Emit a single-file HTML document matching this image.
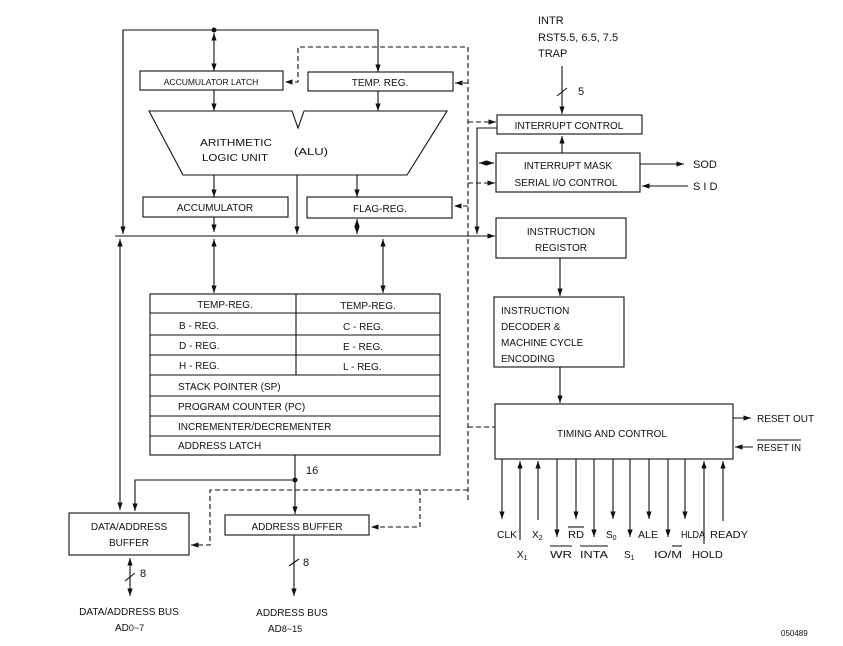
<!DOCTYPE html>
<html><head><meta charset="utf-8"><style>
html,body{margin:0;padding:0;background:#fff;}
svg{display:block;}
text{font-family:"Liberation Sans",sans-serif;fill:#111;}
</style></head><body>
<svg width="843" height="646" viewBox="0 0 843 646" xmlns="http://www.w3.org/2000/svg">
<defs>
<marker id="a" viewBox="0 0 10 10" refX="10" refY="5" markerWidth="7" markerHeight="7" orient="auto-start-reverse"><path d="M0,1.5 L10,5 L0,8.5 z" fill="#111"/></marker>
</defs>
<g stroke="#111" stroke-width="1.1" fill="none">
<polyline points="123,234 123,30 378,30 378,72" marker-end="url(#a)"/>
<line x1="123" y1="30" x2="123" y2="234" marker-end="url(#a)"/>
<line x1="214" y1="33" x2="214" y2="71" marker-start="url(#a)" marker-end="url(#a)"/>
<rect x="140" y="71" width="143" height="19"/>
<rect x="308" y="72" width="145" height="19"/>
<line x1="214" y1="90" x2="214" y2="111" marker-end="url(#a)"/>
<line x1="378" y1="91" x2="378" y2="111" marker-end="url(#a)"/>
<polygon points="149,111 292,111 298,128 304,111 447,111 407,175 183,175"/>
<line x1="214" y1="175" x2="214" y2="197" marker-end="url(#a)"/>
<line x1="357" y1="175" x2="357" y2="197" marker-end="url(#a)"/>
<line x1="297" y1="175" x2="297" y2="234" marker-end="url(#a)"/>
<rect x="143" y="197" width="145" height="20"/>
<rect x="307" y="197" width="145" height="21"/>
<line x1="214" y1="217" x2="214" y2="232" marker-end="url(#a)"/>
<line x1="357" y1="219" x2="357" y2="234" marker-start="url(#a)" marker-end="url(#a)"/>
<line x1="115" y1="236" x2="495" y2="236" marker-end="url(#a)"/>
<line x1="120" y1="239" x2="120" y2="510" marker-start="url(#a)" marker-end="url(#a)"/>
<line x1="214" y1="239" x2="214" y2="293" marker-start="url(#a)" marker-end="url(#a)"/>
<line x1="383" y1="239" x2="383" y2="293" marker-start="url(#a)" marker-end="url(#a)"/>
<rect x="150" y="294" width="290" height="161"/>
<line x1="150" y1="313" x2="440" y2="313"/>
<line x1="150" y1="335" x2="440" y2="335"/>
<line x1="150" y1="355" x2="440" y2="355"/>
<line x1="150" y1="375" x2="440" y2="375"/>
<line x1="150" y1="396" x2="440" y2="396"/>
<line x1="150" y1="416" x2="440" y2="416"/>
<line x1="150" y1="436" x2="440" y2="436"/>
<line x1="296" y1="294" x2="296" y2="375"/>
<line x1="295" y1="455" x2="295" y2="514" marker-end="url(#a)"/>
<polyline points="295,480 135,480 135,511" marker-end="url(#a)"/>
<rect x="69" y="513" width="120" height="42"/>
<rect x="225" y="515" width="144" height="20"/>
<line x1="130" y1="558" x2="130" y2="596" marker-start="url(#a)" marker-end="url(#a)"/>
<line x1="125" y1="581" x2="135" y2="573"/>
<line x1="294" y1="535" x2="294" y2="596" marker-end="url(#a)"/>
<line x1="289" y1="566" x2="299" y2="559"/>
<g stroke-dasharray="5,3">
<polyline points="468,500 468,47 298,47 298,82 285,82" marker-end="url(#a)"/>
<line x1="468" y1="83" x2="455" y2="83" marker-end="url(#a)"/>
<line x1="468" y1="206" x2="454" y2="206" marker-end="url(#a)"/>
<line x1="468" y1="122" x2="496" y2="122" marker-end="url(#a)"/>
<line x1="468" y1="183" x2="495" y2="183" marker-end="url(#a)"/>
<line x1="468" y1="427" x2="495" y2="427"/>
<polyline points="468,490 210,490 210,545 191,545" marker-end="url(#a)"/>
<polyline points="420,490 420,527 371,527" marker-end="url(#a)"/>
</g>
<rect x="497" y="115" width="145" height="19"/>
<rect x="496" y="153" width="144" height="39"/>
<rect x="496" y="218" width="130" height="40"/>
<rect x="494" y="297" width="130" height="70"/>
<rect x="495" y="404" width="238" height="55"/>
<polyline points="497,128 477,128 477,234" marker-end="url(#a)"/>
<line x1="479" y1="163" x2="494" y2="163" marker-start="url(#a)" marker-end="url(#a)"/>
<line x1="562" y1="66" x2="562" y2="114" marker-end="url(#a)"/>
<line x1="557" y1="96" x2="567" y2="88"/>
<line x1="562" y1="153" x2="562" y2="136" marker-end="url(#a)"/>
<line x1="640" y1="164" x2="684" y2="164" marker-end="url(#a)"/>
<line x1="688" y1="186" x2="642" y2="186" marker-end="url(#a)"/>
<line x1="560" y1="258" x2="560" y2="296" marker-end="url(#a)"/>
<line x1="560" y1="367" x2="560" y2="403" marker-end="url(#a)"/>
<line x1="733" y1="418" x2="751" y2="418" marker-end="url(#a)"/>
<line x1="753" y1="447" x2="735" y2="447" marker-end="url(#a)"/>
<line x1="502" y1="459" x2="502" y2="519" marker-end="url(#a)"/>
<line x1="520" y1="540" x2="520" y2="461" marker-end="url(#a)"/>
<line x1="538" y1="520" x2="538" y2="461" marker-end="url(#a)"/>
<line x1="557" y1="459" x2="557" y2="537" marker-end="url(#a)"/>
<line x1="576" y1="459" x2="576" y2="519" marker-end="url(#a)"/>
<line x1="594" y1="459" x2="594" y2="537" marker-end="url(#a)"/>
<line x1="613" y1="459" x2="613" y2="519" marker-end="url(#a)"/>
<line x1="630" y1="459" x2="630" y2="537" marker-end="url(#a)"/>
<line x1="649" y1="459" x2="649" y2="519" marker-end="url(#a)"/>
<line x1="668" y1="459" x2="668" y2="537" marker-end="url(#a)"/>
<line x1="685" y1="459" x2="685" y2="519" marker-end="url(#a)"/>
<line x1="704" y1="544" x2="704" y2="461" marker-end="url(#a)"/>
<line x1="723" y1="521" x2="723" y2="461" marker-end="url(#a)"/>
<line x1="757" y1="440" x2="801" y2="440"/>
<line x1="568" y1="527" x2="584" y2="527"/>
<line x1="550" y1="546" x2="572" y2="546"/>
<line x1="580" y1="546" x2="608" y2="546"/>
<line x1="672" y1="546" x2="682" y2="546"/>
</g>
<circle cx="214" cy="30" r="2.5" fill="#111"/>
<circle cx="295" cy="480" r="2.5" fill="#111"/>
<g font-size="10">
<text x="211" y="85" text-anchor="middle" font-size="8.5">ACCUMULATOR LATCH</text>
<text x="380" y="86" text-anchor="middle">TEMP.  REG.</text>
<text x="200" y="146" textLength="72" lengthAdjust="spacingAndGlyphs">ARITHMETIC</text>
<text x="202" y="161" textLength="66" lengthAdjust="spacingAndGlyphs">LOGIC UNIT</text>
<text x="294" y="155" textLength="34" lengthAdjust="spacingAndGlyphs">(ALU)</text>
<text x="215" y="211" text-anchor="middle">ACCUMULATOR</text>
<text x="380" y="212" text-anchor="middle">FLAG-REG.</text>
<text x="225" y="308" text-anchor="middle">TEMP-REG.</text>
<text x="368" y="309" text-anchor="middle">TEMP-REG.</text>
<text x="179" y="329">B  -  REG.</text>
<text x="343" y="330">C  -  REG.</text>
<text x="179" y="349">D  -  REG.</text>
<text x="343" y="350">E  -  REG.</text>
<text x="179" y="369">H  -  REG.</text>
<text x="343" y="370">L  -  REG.</text>
<text x="178" y="390">STACK POINTER (SP)</text>
<text x="178" y="410">PROGRAM COUNTER (PC)</text>
<text x="178" y="430">INCREMENTER/DECREMENTER</text>
<text x="178" y="449">ADDRESS LATCH</text>
<text x="129" y="530" text-anchor="middle">DATA/ADDRESS</text>
<text x="129" y="546" text-anchor="middle">BUFFER</text>
<text x="297" y="530" text-anchor="middle">ADDRESS BUFFER</text>
<text x="306" y="474" font-size="11">16</text>
<text x="140" y="577" font-size="11">8</text>
<text x="303" y="566" font-size="11">8</text>
<text x="129" y="615" text-anchor="middle">DATA/ADDRESS BUS</text>
<text x="115" y="631">AD<tspan font-size="9">0~7</tspan></text>
<text x="292" y="616" text-anchor="middle">ADDRESS BUS</text>
<text x="268" y="632">AD<tspan font-size="9">8~15</tspan></text>
<text x="538" y="24" font-size="11">INTR</text>
<text x="538" y="41" font-size="11">RST5.5,  6.5,  7.5</text>
<text x="538" y="57" font-size="11">TRAP</text>
<text x="578" y="95" font-size="11">5</text>
<text x="569" y="129" text-anchor="middle">INTERRUPT CONTROL</text>
<text x="568" y="169" text-anchor="middle">INTERRUPT MASK</text>
<text x="566" y="186" text-anchor="middle">SERIAL I/O CONTROL</text>
<text x="693" y="168" font-size="11">SOD</text>
<text x="693" y="190" font-size="11">S I D</text>
<text x="561" y="235" text-anchor="middle">INSTRUCTION</text>
<text x="561" y="251" text-anchor="middle">REGISTOR</text>
<text x="501" y="314">INSTRUCTION</text>
<text x="501" y="330">DECODER &amp;</text>
<text x="501" y="346">MACHINE CYCLE</text>
<text x="501" y="362">ENCODING</text>
<text x="612" y="437" text-anchor="middle">TIMING AND CONTROL</text>
<text x="757" y="422">RESET  OUT</text>
<text x="757" y="451" textLength="44" lengthAdjust="spacingAndGlyphs">RESET IN</text>
<text x="497" y="538" textLength="20" lengthAdjust="spacingAndGlyphs">CLK</text>
<text x="532" y="538">X<tspan font-size="7" dy="2">2</tspan></text>
<text x="568" y="538" textLength="16" lengthAdjust="spacingAndGlyphs">RD</text>
<text x="606" y="538">S<tspan font-size="7" dy="2">0</tspan></text>
<text x="638" y="538" textLength="20" lengthAdjust="spacingAndGlyphs">ALE</text>
<text x="681" y="538" textLength="24" lengthAdjust="spacingAndGlyphs">HLDA</text>
<text x="710" y="538" textLength="38" lengthAdjust="spacingAndGlyphs">READY</text>
<text x="517" y="558">X<tspan font-size="7" dy="2">1</tspan></text>
<text x="550" y="558" textLength="22" lengthAdjust="spacingAndGlyphs">WR</text>
<text x="580" y="558" textLength="28" lengthAdjust="spacingAndGlyphs">INTA</text>
<text x="624" y="558">S<tspan font-size="7" dy="2">1</tspan></text>
<text x="654" y="558" textLength="28" lengthAdjust="spacingAndGlyphs">IO/M</text>
<text x="692" y="558" textLength="31" lengthAdjust="spacingAndGlyphs">HOLD</text>
<text x="781" y="636" font-size="8">050489</text>
</g>
</svg>
</body></html>
